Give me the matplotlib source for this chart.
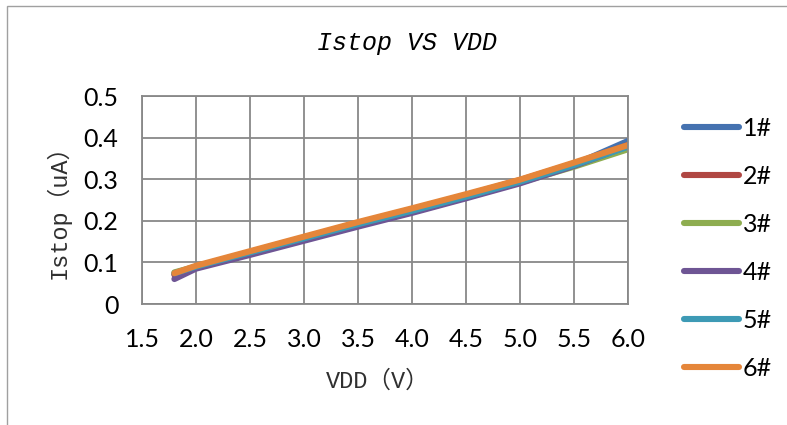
import matplotlib
matplotlib.use("Agg")
import matplotlib.pyplot as plt
from matplotlib.patches import Rectangle
from matplotlib.lines import Line2D

# ---- data ----
vdd = [1.8, 2.0, 2.5, 3.0, 3.5, 4.0, 4.5, 5.0, 5.5, 6.0]
s1 = [0.072, 0.088, 0.122, 0.155, 0.188, 0.221, 0.256, 0.292, 0.335, 0.392]
s2 = [0.070, 0.090, 0.125, 0.160, 0.195, 0.228, 0.262, 0.298, 0.338, 0.382]
s3 = [0.076, 0.090, 0.124, 0.158, 0.192, 0.224, 0.258, 0.292, 0.330, 0.372]
s4 = [0.060, 0.085, 0.118, 0.152, 0.186, 0.219, 0.254, 0.290, 0.332, 0.380]
s5 = [0.074, 0.090, 0.124, 0.158, 0.192, 0.224, 0.258, 0.294, 0.334, 0.378]
s6 = [0.074, 0.092, 0.127, 0.162, 0.197, 0.230, 0.264, 0.299, 0.340, 0.382]
series = [s1, s2, s3, s4, s5, s6]
labels = ["1#", "2#", "3#", "4#", "5#", "6#"]
colors = ["#4572B0", "#B04743", "#8EAD50", "#6E5594", "#3D9AB5", "#E5863A"]
xticks = [1.5, 2.0, 2.5, 3.0, 3.5, 4.0, 4.5, 5.0, 5.5, 6.0]
xticklabels = ["1.5", "2.0", "2.5", "3.0", "3.5", "4.0", "4.5", "5.0", "5.5", "6.0"]
yticks = [0, 0.1, 0.2, 0.3, 0.4, 0.5]
yticklabels = ["0", "0.1", "0.2", "0.3", "0.4", "0.5"]
title = "Istop VS VDD"
xlabel = "VDD（V）"
ylabel = "Istop（uA）"

W, H = 787, 425
fig = plt.figure(figsize=(W / 100, H / 100), dpi=100)
fig.patch.set_facecolor("white")

# chart frame
fig.patches.append(Rectangle((7 / W, -0.1), 1.2, 1.1 - 6 / H, transform=fig.transFigure,
                             fill=False, edgecolor="#a0a0a0", linewidth=1.0, zorder=-4))

ax = fig.add_axes([142 / W, 1 - 304 / H, (628 - 142) / W, (304 - 96) / H])
ax.set_facecolor("none")

for ys, c, lab in zip(series, colors, labels):
    ax.plot(vdd, ys, color=c, linewidth=4.4, solid_capstyle="round", solid_joinstyle="round", label=lab)

ax.set_xlim(1.5, 6.0)
ax.set_ylim(0, 0.5)
ax.set_xticks(xticks)
ax.set_xticklabels(xticklabels)
ax.set_yticks(yticks)
ax.set_yticklabels(yticklabels)
ax.tick_params(length=0, labelsize=18, pad=17)
ax.tick_params(axis="y", pad=17)
for t in ax.get_xticklabels() + ax.get_yticklabels():
    t.set_family("Lato")
ax.grid(True, color="#888888", linewidth=1.3)
ax.set_axisbelow(True)
for sp in ax.spines.values():
    sp.set_color("#888888")
    sp.set_linewidth(1.3)

fig.text(407 / W, 1 - 43 / H, title, ha="center", va="center", fontsize=18,
         style="italic", family=["Liberation Mono", "DejaVu Sans"])
fig.text(378 / W, 1 - 381 / H, xlabel, ha="center", va="center", fontsize=17,
         family=["Liberation Mono", "Noto Sans CJK SC"], color="#303030")
fig.text(58 / W, 1 - 206 / H, ylabel, ha="center", va="center", fontsize=17, rotation=90,
         family=["Liberation Mono", "Noto Sans CJK SC"], color="#303030")

handles = [Line2D([], [], color=c, linewidth=4.4, solid_capstyle="round") for c in colors]
fig.legend(handles, labels, loc="upper left", bbox_to_anchor=(684 / W, 1 - 117 / H),
           frameon=False, borderpad=0, borderaxespad=0, handlelength=2.2,
           handletextpad=0.15, labelspacing=1.0, prop={"family": "Lato", "size": 18})

fig.savefig("out.png", dpi=100)
